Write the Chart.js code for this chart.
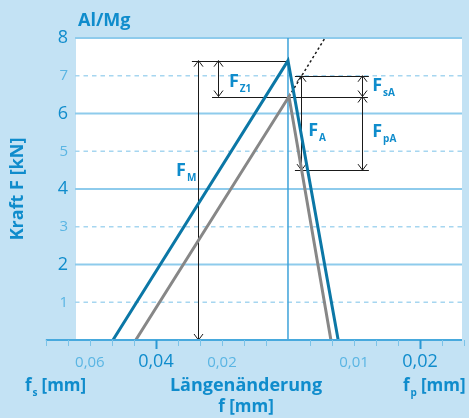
<!DOCTYPE html>
<html>
<head>
<meta charset="utf-8">
<script src="https://cdn.jsdelivr.net/npm/chart.js@4/dist/chart.umd.min.js"></script>
<style>
  html, body { margin: 0; padding: 0; background: #c3e2f4; }
  #wrap { width: 469px; height: 418px; }
</style>
</head>
<body>
<div id="wrap"><canvas id="chart" width="469" height="418"></canvas></div>
<script>
// shared x axis: left half is -f_s, right half is 2*f_p (both mm); y is force in kN
const blueX = [-0.053, 0, 0.0152];
const blueY = [0, 7.4, 0];
const grayX = [-0.0461, 0.0003, 0.0130];
const grayY = [0, 6.45, 0];
const dashX = [0.0003, 0.0112];
const dashY = [6.45, 8];

const xTickValues = [-0.06, -0.04, -0.02, 0.02, 0.04];
const xTickLabels = ['0,06', '0,04', '0,02', '0,01', '0,02'];
const xTickMajor = [false, true, false, false, true];

// dimension arrows: x, from F, to F
const arrowX = [-0.0273, -0.0212, 0.0224, 0.0039, 0.0224];
const arrowFrom = [7.4, 7.4, 7.0, 7.0, 6.45];
const arrowTo = [0, 6.45, 6.45, 4.5, 4.5];

// helper lines: F level, x from, x to
const helperY = [7.4, 6.45, 7.0, 4.5];
const helperX1 = [-0.0291, -0.0230, 0.0021, 0.0021];
const helperX2 = [0, 0.0242, 0.0245, 0.0245];

// force labels: subscript, x, F
const labelSub = ['M', 'Z1', 'sA', 'pA', 'A'];
const labelX = [-0.0339, -0.0179, 0.0255, 0.0255, 0.0061];
const labelY = [4.34, 6.70, 6.60, 5.38, 5.40];

const FONT = "'Open Sans', sans-serif";
const BLUE_TEXT = '#0f8ccc';
const LIGHT_TEXT = '#5ab5e3';

function isOdd(c) {
    return c.tick ? c.tick.value % 2 === 1 : false;
}

function drawSub(ctx, x, y, main, sub, rest, size) {
    ctx.font = 'bold ' + size + 'px ' + FONT;
    ctx.fillText(main, x, y);
    let w = ctx.measureText(main).width;
    ctx.font = 'bold ' + Math.round(size * 0.58) + 'px ' + FONT;
    ctx.fillText(sub, x + w + 1, y + 5);
    w += 1 + ctx.measureText(sub).width;
    if (rest) {
        ctx.font = 'bold ' + size + 'px ' + FONT;
        ctx.fillText(rest, x + w + 4, y);
    }
}

const decor = {
    id: 'decor',
    beforeDraw(chart) {
        const { ctx, chartArea: a, scales: { x, y } } = chart;
        ctx.save();
        ctx.fillStyle = '#c3e2f4';
        ctx.fillRect(0, 0, chart.width, chart.height);
        ctx.fillStyle = '#ffffff';
        ctx.fillRect(a.left, a.top, a.right - a.left, a.bottom - a.top);
        for (let v = 1; v <= 8; v++) {
            const py = y.getPixelForValue(v);
            ctx.beginPath();
            if (v % 2) {
                ctx.setLineDash([4.5, 4]);
                ctx.strokeStyle = '#a6d6f0';
                ctx.lineWidth = 1.5;
            } else {
                ctx.setLineDash([]);
                ctx.strokeStyle = '#8ecbec';
                ctx.lineWidth = 2;
            }
            ctx.moveTo(a.left - 1, py);
            ctx.lineTo(a.right, py);
            ctx.stroke();
        }
        ctx.setLineDash([]);
        // center line
        const cx = x.getPixelForValue(0);
        ctx.strokeStyle = '#3da2d9';
        ctx.lineWidth = 1.5;
        ctx.beginPath();
        ctx.moveTo(cx, y.getPixelForValue(8));
        ctx.lineTo(cx, y.getPixelForValue(0));
        ctx.stroke();
        ctx.restore();
    },
    beforeDatasetsDraw(chart) {
        const { ctx, scales: { x, y } } = chart;
        ctx.save();
        ctx.strokeStyle = '#1a1a1a';
        ctx.lineWidth = 1;
        helperY.forEach((v, i) => {
            const py = Math.round(y.getPixelForValue(v)) + 0.5;
            ctx.beginPath();
            ctx.moveTo(x.getPixelForValue(helperX1[i]), py);
            ctx.lineTo(x.getPixelForValue(helperX2[i]), py);
            ctx.stroke();
        });
        arrowX.forEach((v, i) => {
            const px = Math.round(x.getPixelForValue(v)) + 0.5;
            const y1 = y.getPixelForValue(arrowFrom[i]);
            const y2 = y.getPixelForValue(arrowTo[i]);
            ctx.beginPath();
            ctx.moveTo(px, y1);
            ctx.lineTo(px, y2);
            ctx.moveTo(px - 4.5, y1 + 6);
            ctx.lineTo(px, y1);
            ctx.lineTo(px + 4.5, y1 + 6);
            ctx.moveTo(px - 4.5, y2 - 6);
            ctx.lineTo(px, y2);
            ctx.lineTo(px + 4.5, y2 - 6);
            ctx.stroke();
        });
        ctx.restore();
    },
    afterDraw(chart) {
        const { ctx, chartArea: a, scales: { x, y } } = chart;
        ctx.save();
        // bottom axis with ticks
        const by = y.getPixelForValue(0);
        const step = 0.02 / 3;
        const xs = x.getPixelForValue(-11 * step);
        ctx.strokeStyle = '#48a9dd';
        ctx.lineWidth = 2;
        ctx.beginPath();
        ctx.moveTo(xs, by);
        ctx.lineTo(a.right, by);
        ctx.stroke();
        for (let k = -11; k <= 8; k++) {
            if (k === 0) continue;
            const px = Math.round(x.getPixelForValue(k * step)) + 0.5;
            const major = k === -6 || k === 6;
            ctx.strokeStyle = major ? '#2a98d4' : '#7cc3e8';
            ctx.lineWidth = major ? 2 : 1;
            ctx.beginPath();
            ctx.moveTo(px, by);
            ctx.lineTo(px, by + (major ? 9 : 6));
            ctx.stroke();
        }
        // x tick labels
        ctx.textBaseline = 'alphabetic';
        ctx.textAlign = 'center';
        xTickValues.forEach((v, i) => {
            ctx.fillStyle = xTickMajor[i] ? BLUE_TEXT : LIGHT_TEXT;
            ctx.font = (xTickMajor[i] ? 18 : 15) + 'px ' + FONT;
            ctx.fillText(xTickLabels[i], x.getPixelForValue(v), 367);
        });
        // force labels
        ctx.textAlign = 'left';
        ctx.fillStyle = BLUE_TEXT;
        labelSub.forEach((s, i) => {
            drawSub(ctx, x.getPixelForValue(labelX[i]), y.getPixelForValue(labelY[i]), 'F', s, '', 18);
        });
        // titles
        ctx.font = 'bold 18px ' + FONT;
        ctx.fillText('Al/Mg', 78, 26);
        drawSub(ctx, 25, 391, 'f', 's', '[mm]', 17);
        drawSub(ctx, 403, 391, 'f', 'p', '[mm]', 17);
        ctx.textAlign = 'center';
        ctx.font = 'bold 18px ' + FONT;
        ctx.fillText('Längenänderung', 246, 391);
        ctx.font = 'bold 17px ' + FONT;
        ctx.fillText('f [mm]', 246, 412);
        ctx.restore();
    }
};

function toPoints(xs, ys) {
    return xs.map((v, i) => ({ x: v, y: ys[i] }));
}

function createChart() {
    const ctx = document.getElementById('chart').getContext('2d');
    new Chart(ctx, {
        type: 'line',
        data: {
            datasets: [
                { data: toPoints(grayX, grayY), borderColor: '#878787', borderWidth: 3 },
                { data: toPoints(blueX, blueY), borderColor: '#0b77a6', borderWidth: 3 },
                { data: toPoints(dashX, dashY), borderColor: '#1a1a1a', borderWidth: 1.5, borderDash: [2.5, 2.5] }
            ]
        },
        options: {
            responsive: false,
            animation: false,
            events: [],
            elements: { point: { radius: 0 }, line: { tension: 0 } },
            layout: { padding: { top: 38, right: 7, bottom: 0, left: 0 } },
            plugins: { legend: { display: false }, tooltip: { enabled: false } },
            scales: {
                x: {
                    type: 'linear',
                    min: -0.0642,
                    max: 0.0527,
                    grid: { display: false },
                    border: { display: false },
                    ticks: { display: false },
                    afterFit: s => { s.height = 78; }
                },
                y: {
                    min: 0,
                    max: 8,
                    grid: { display: false, drawTicks: false },
                    border: { display: false },
                    ticks: {
                        stepSize: 1,
                        padding: 8,
                        callback: v => (v === 0 ? '' : String(v)),
                        color: c => (isOdd(c) ? LIGHT_TEXT : BLUE_TEXT),
                        font: c => ({ family: FONT, size: isOdd(c) ? 15 : 18 })
                    },
                    title: {
                        display: true,
                        text: 'Kraft F [kN]',
                        color: BLUE_TEXT,
                        font: { family: FONT, size: 18, weight: 'bold' },
                        padding: { top: 7, bottom: 0 }
                    },
                    afterFit: s => { s.width = 76; }
                }
            }
        },
        plugins: [decor]
    });
}

document.addEventListener('DOMContentLoaded', createChart);
</script>
</body>
</html>
